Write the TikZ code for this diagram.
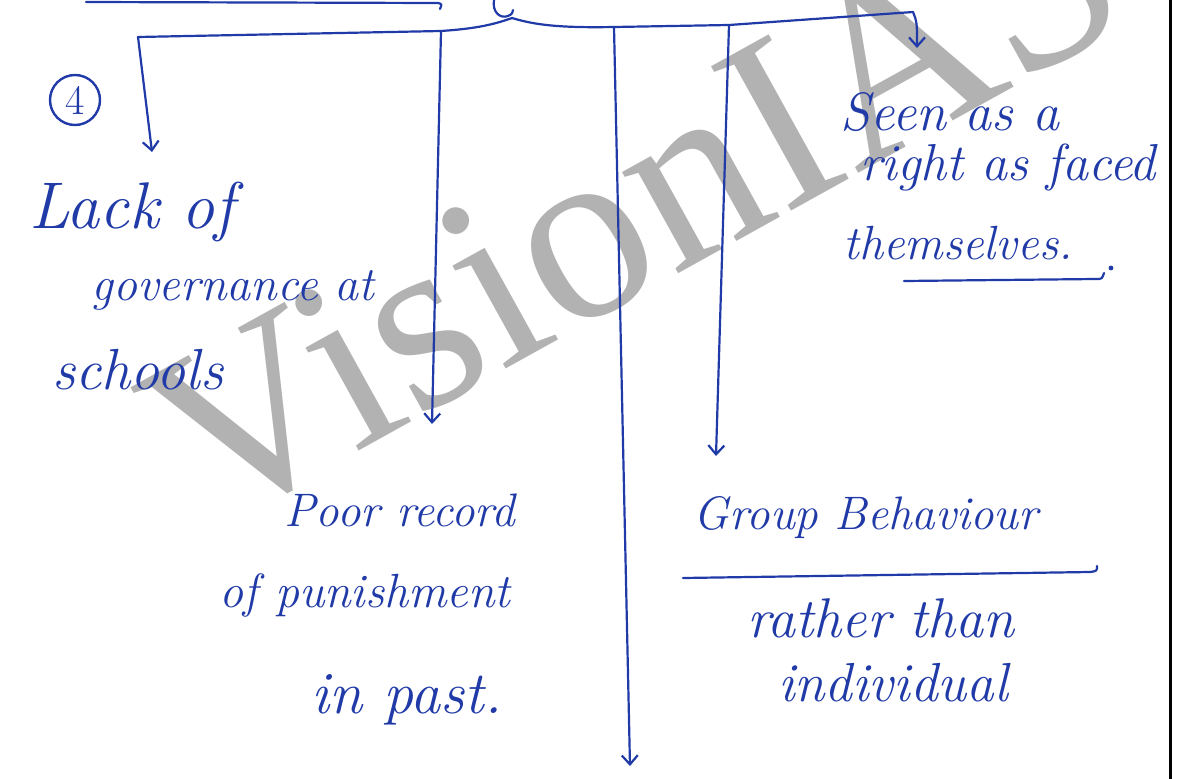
\documentclass[tikz,border=0pt]{standalone}
\usepackage{fontspec}
\newfontfamily\wmfont{Liberation Serif}
\usetikzlibrary{arrows.meta}
\definecolor{ink}{RGB}{32,58,168}
\definecolor{wm}{RGB}{178,178,178}
\newcommand\inksize[1]{\fontsize{#1}{#1}\selectfont\itshape}
\begin{document}
\begin{tikzpicture}[x=1pt,y=-1pt,
  inkline/.style={draw=ink, line width=2.2pt, line cap=round, line join=round},
  arrowline/.style={inkline, -{Straight Barb[length=9pt,width=16pt]}},
  hand/.style={text=ink, inner sep=0pt},
  ]
\useasboundingbox (0,0) rectangle (1181,779);
\clip (0,0) rectangle (1181,779);
\fill[white] (0,0) rectangle (1181,779);
% watermark
\node[text=wm, inner sep=0pt, font=\wmfont\fontsize{252}{252}\selectfont, rotate=29] (wm) at (634,205) {VisionIAS};
% circled number
\node[circle, draw=ink, line width=2.4pt, text=ink, minimum size=50pt, inner sep=0pt, font=\fontsize{42}{42}\selectfont] (num) at (75,100) {4};
% texts
\node[hand, font=\inksize{66}] (lack) at (132,212) {Lack of};
\node[hand, font=\inksize{48}] (gov) at (233,290) {governance at};
\node[hand, font=\inksize{58}] (schools) at (138,370) {schools};
\node[hand, font=\inksize{54}] (seen) at (950,112) {Seen as a};
\node[hand, font=\inksize{52}] (right) at (1008,167) {right as faced};
\node[hand, font=\inksize{48}] (them) at (958,243) {themselves.};
\node[hand, font=\inksize{47}] (poor) at (400,510) {Poor record};
\node[hand, font=\inksize{48}] (ofp) at (365,595) {of punishment};
\node[hand, font=\inksize{60}] (inpast) at (407,700) {in past.};
\node[hand, font=\inksize{47}] (group) at (866,518) {Group Behaviour};
\node[hand, font=\inksize{56}] (rather) at (881,618) {rather than};
\node[hand, font=\inksize{55}] (indiv) at (893,683) {individual};
% coordinates
\coordinate (fragL) at (86,2);
\coordinate (fragR) at (438,3);
\coordinate (stem) at (494,0);
\coordinate (J) at (512,18);
\coordinate (bA) at (138,37);
\coordinate (bB) at (441,31);
\coordinate (bC) at (614,27);
\coordinate (bD) at (729,25);
\coordinate (bE) at (913,12);
\coordinate (tA) at (152,152);
\coordinate (tB) at (432,424);
\coordinate (tC) at (630,766);
\coordinate (tD) at (716,456);
\coordinate (tE) at (917,48);
% connectors
\draw[inkline] (fragL) -- (fragR) .. controls (442,4) .. (440,9);
\draw[inkline] (stem) .. controls (492,12) and (500,19) .. (508,16) .. controls (512,14) .. (513,10);
\draw[inkline] (J) .. controls (490,26) and (470,29) .. (bB) -- (bA);
\draw[inkline] (J) .. controls (535,25) and (560,28) .. (bC) -- (bD) -- (bE);
\draw[arrowline] (bA) -- (tA);
\draw[arrowline] (bB) -- (tB);
\draw[arrowline] (bC) -- (tC);
\draw[arrowline] (bD) -- (tD);
\draw[arrowline] (bE) .. controls (917,22) .. (tE);
% underlines
\coordinate (u1a) at (904,281);
\coordinate (u1b) at (1096,279);
\draw[inkline] (u1a) -- (u1b) .. controls (1102,279) .. (1104,273);
\fill[ink] (1111,268) circle (2.4pt);
\coordinate (u2a) at (683,578);
\coordinate (u2b) at (1090,572);
\draw[inkline] (u2a) -- (u2b) .. controls (1097,571) .. (1097,566);
% page border
\coordinate (bt) at (1170,0);
\coordinate (bb) at (1170,779);
\draw[black, line width=3pt] (bt) -- (bb);
\end{tikzpicture}
\end{document}
